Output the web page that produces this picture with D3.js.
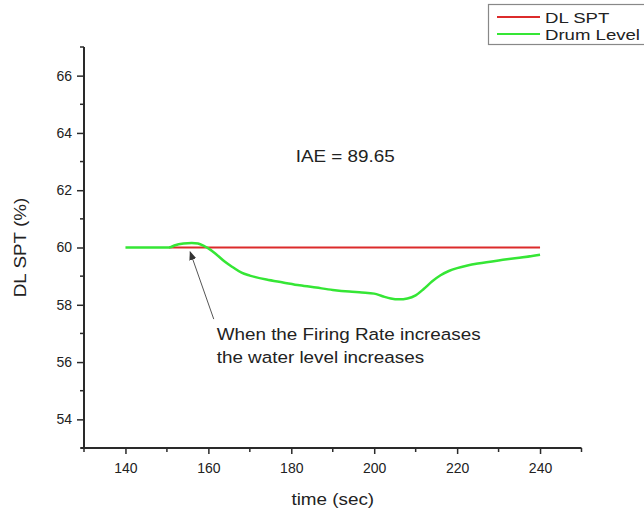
<!DOCTYPE html>
<html>
<head>
<meta charset="utf-8">
<title>Drum Level vs DL SPT</title>
<script src="https://d3js.org/d3.v7.min.js"></script>
<style>
    html, body {
        margin: 0;
        padding: 0;
        background: white;
    }
    svg text {
        font-family: "Liberation Sans", Arial, sans-serif;
        fill: #222;
    }
</style>
</head>
<body>
<div id="graph"></div>
<script>
    // data
    var timeSec   = [140, 145, 150, 151, 152, 154, 156, 157.5, 159, 160, 162, 164, 166, 168, 170, 174, 178, 182, 186, 190, 194, 197, 200, 202, 204, 206, 208, 210, 212, 214, 216, 218, 220, 222.5, 225, 230, 235, 240];
    var drumLevel = [60, 60, 60, 60.02, 60.08, 60.14, 60.16, 60.14, 60.05, 59.97, 59.75, 59.5, 59.3, 59.12, 59.02, 58.88, 58.78, 58.68, 58.6, 58.52, 58.46, 58.43, 58.39, 58.3, 58.22, 58.19, 58.22, 58.33, 58.56, 58.82, 59.03, 59.18, 59.28, 59.37, 59.44, 59.55, 59.64, 59.75];
    var spTime  = [150.5, 240];
    var spValue = [60, 60];

    var xTicks = [140, 160, 180, 200, 220, 240];
    var xMinor = [130, 150, 170, 190, 210, 230, 250];
    var yTicks = [54, 56, 58, 60, 62, 64, 66];
    var yMinor = [53, 55, 57, 59, 61, 63, 65, 67];

    var seriesNames = ["DL SPT", "Drum Level"];
    var seriesColors = ["#dc2b2b", "#35e635"];

    var W = 644, H = 510;
    var stretch = 1.11; // the labels in the picture are a bit wide
    var svg = d3.select("#graph").append("svg")
        .attr("width", W)
        .attr("height", H);

    function wideText(parent, px, py, str, size, anchor, extra, sx) {
        return parent.append("text")
            .attr("transform", "translate(" + px + "," + py + ")" + (extra || "") + " scale(" + (sx || stretch) + ",1)")
            .attr("text-anchor", anchor || "start")
            .style("font-size", size + "px")
            .text(str);
    }

    var x = d3.scaleLinear().domain([130, 250]).range([84, 581.5]);
    var y = d3.scaleLinear().domain([53, 67]).range([448, 47]);

    var axisColor = "#2a2a2a";

    // x axis
    var xAxis = svg.append("g")
        .attr("transform", "translate(0," + y(53) + ")")
        .call(d3.axisBottom(x).tickValues(xTicks).tickSize(6).tickPadding(9).tickFormat(d3.format("d")));
    xAxis.append("g").selectAll("line")
        .data(xMinor).enter().append("line")
        .attr("x1", function(d) { return x(d); })
        .attr("x2", function(d) { return x(d); })
        .attr("y1", 0).attr("y2", 4)
        .attr("stroke", axisColor).attr("stroke-width", 1.5);

    // y axis
    var yAxis = svg.append("g")
        .attr("transform", "translate(" + x(130) + ",0)")
        .call(d3.axisLeft(y).tickValues(yTicks).tickSize(7).tickPadding(5).tickFormat(d3.format("d")));
    yAxis.append("g").selectAll("line")
        .data(yMinor).enter().append("line")
        .attr("y1", function(d) { return y(d); })
        .attr("y2", function(d) { return y(d); })
        .attr("x1", 0).attr("x2", -4)
        .attr("stroke", axisColor).attr("stroke-width", 1.5);

    [xAxis, yAxis].forEach(function(g) {
        g.select(".domain").attr("stroke", axisColor).attr("stroke-width", 2);
        g.selectAll(".tick line").attr("stroke", axisColor).attr("stroke-width", 1.5);
        g.selectAll(".tick text").style("font-size", "14px").style("font-family", "'Liberation Sans', Arial, sans-serif").attr("fill", "#222");
    });
    // plain axis lines, no outer ticks
    xAxis.select(".domain").attr("d", "M" + (x(130) - 3) + ",0H" + x(250));
    yAxis.select(".domain").attr("d", "M0," + y(53) + "V" + y(67));

    // axis titles
    wideText(svg, x(190), 505, "time (sec)", 17, "middle");
    wideText(svg, 26, y(60), "DL SPT (%)", 17, "middle", " rotate(-90)");

    // set point line
    var line = d3.line()
        .x(function(d) { return x(d[0]); })
        .y(function(d) { return y(d[1]); });

    svg.append("path")
        .datum(d3.zip(spTime, spValue))
        .attr("d", line)
        .attr("fill", "none")
        .attr("stroke", seriesColors[0])
        .attr("stroke-width", 2.2);

    // drum level
    svg.append("path")
        .datum(d3.zip(timeSec, drumLevel))
        .attr("d", line.curve(d3.curveMonotoneX))
        .attr("fill", "none")
        .attr("stroke", seriesColors[1])
        .attr("stroke-width", 2.5);

    // IAE label
    wideText(svg, x(193), y(63), "IAE = 89.65", 17, "middle");

    // annotation arrow
    svg.append("defs").append("marker")
        .attr("id", "arrowhead")
        .attr("viewBox", "0 0 10 10")
        .attr("refX", 9).attr("refY", 5)
        .attr("markerWidth", 9).attr("markerHeight", 9)
        .attr("orient", "auto")
        .append("path")
        .attr("d", "M0,1 L10,5 L0,9 Z")
        .attr("fill", "#333");

    svg.append("line")
        .attr("x1", x(161.3)).attr("y1", y(57.5))
        .attr("x2", x(155.6)).attr("y2", y(59.85))
        .attr("stroke", "#555")
        .attr("stroke-width", 1)
        .attr("marker-end", "url(#arrowhead)");

    wideText(svg, x(162), 339.5, "When the Firing Rate increases", 17, "start");
    wideText(svg, x(162), 362.5, "the water level increases", 17, "start");

    // legend
    var legend = svg.append("g");
    legend.append("rect")
        .attr("x", 488.5).attr("y", 4.5)
        .attr("width", 170).attr("height", 40)
        .attr("fill", "white")
        .attr("stroke", "#888")
        .attr("stroke-width", 1.2);

    seriesNames.forEach(function(name, i) {
        var ly = 17 + i * 17;
        legend.append("line")
            .attr("x1", 497).attr("x2", 540)
            .attr("y1", ly).attr("y2", ly)
            .attr("stroke", seriesColors[i])
            .attr("stroke-width", 2);
        wideText(legend, 545, ly + 5.5, name, 15, "start", "", 1.24);
    });
</script>
</body>
</html>
